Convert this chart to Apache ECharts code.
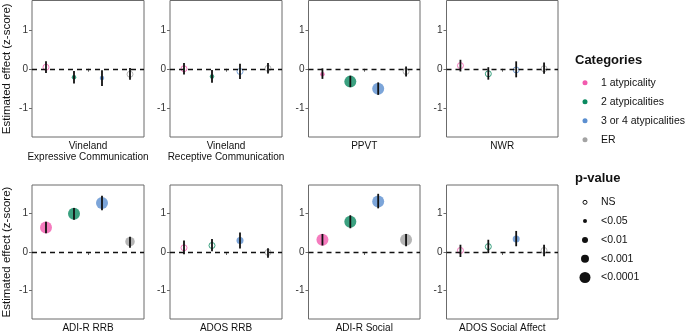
<!DOCTYPE html>
<html>
<head>
<meta charset="utf-8">
<script src="https://cdn.jsdelivr.net/npm/echarts@6/dist/echarts.min.js"></script>
<style>
  html, body { margin: 0; padding: 0; background: #fff; }
  #chart { width: 688px; height: 335px; }
</style>
</head>
<body>
<div id="chart"></div>
<script>
const panels = ['Vineland\nExpressive Communication', 'Vineland\nReceptive Communication', 'PPVT', 'NWR',
  'ADI-R RRB', 'ADOS RRB', 'ADI-R Social', 'ADOS Social Affect'];
const categories = ['1 atypicality', '2 atypicalities', '3 or 4 atypicalities', 'ER'];
const pLabels = ['NS', '<0.05', '<0.01', '<0.001', '<0.0001'];
const yTicks = [-1, 0, 1];

// estimate, lower and upper end of the error bar, one row per panel
const estimates = [
  [0.04, -0.22, -0.24, -0.14],
  [0.00, -0.20, -0.07, 0.01],
  [-0.14, -0.33, -0.51, -0.07],
  [0.08, -0.13, -0.03, 0.00],
  [0.64, 1.00, 1.28, 0.27],
  [0.11, 0.17, 0.30, -0.01],
  [0.32, 0.79, 1.32, 0.32],
  [0.04, 0.14, 0.34, 0.04]
];
const lower = [
  [-0.11, -0.38, -0.44, -0.28],
  [-0.15, -0.36, -0.26, -0.12],
  [-0.26, -0.47, -0.67, -0.20],
  [-0.07, -0.28, -0.22, -0.13],
  [0.49, 0.84, 1.09, 0.11],
  [-0.06, 0.02, 0.09, -0.15],
  [0.17, 0.62, 1.14, 0.15],
  [-0.13, -0.03, 0.15, -0.11]
];
const upper = [
  [0.19, -0.06, -0.04, 0.02],
  [0.15, -0.03, 0.13, 0.15],
  [0.01, -0.18, -0.35, 0.06],
  [0.23, 0.04, 0.19, 0.16],
  [0.79, 1.15, 1.47, 0.40],
  [0.30, 0.34, 0.51, 0.10],
  [0.47, 0.96, 1.52, 0.47],
  [0.19, 0.32, 0.55, 0.19]
];
// index into pLabels
const pLevel = [
  [0, 1, 1, 0],
  [0, 1, 0, 0],
  [1, 4, 4, 0],
  [0, 0, 0, 0],
  [4, 4, 4, 3],
  [0, 0, 2, 0],
  [4, 4, 4, 4],
  [0, 0, 2, 0]
];

const colors = ['#F25AAE', '#0A8A60', '#5B8FD0', '#A3A3A3'];
const sizes = [6, 4.5, 7, 9.5, 12];
const legendR = [2, 2, 3, 4, 5.5];
const font = '"Liberation Sans", Arial, sans-serif';

const colLeft = [28.5, 170, 308.5, 446.5];
const colWidth = [115.5, 112, 111.5, 111.5];
const rowTop = [0.5, 185];
const rowHeight = [136.5, 137];

let grids = [], xAxes = [], yAxes = [], series = [];

panels.forEach((name, i) => {
  let col = i % 4, row = Math.floor(i / 4);
  grids.push({
    left: colLeft[col], top: rowTop[row], width: colWidth[col], height: rowHeight[row],
    show: true, borderColor: '#6b6b6b', borderWidth: 1, backgroundColor: 'transparent'
  });
  xAxes.push({
    type: 'value', gridIndex: i, min: 0.5, max: 4.5,
    name: name, nameLocation: 'middle', nameGap: 4,
    nameTextStyle: { fontFamily: font, fontSize: 10, color: '#111', lineHeight: 11, verticalAlign: 'top' },
    axisLine: { show: false },
    axisTick: { show: true, length: 3, customValues: [2.5], lineStyle: { color: '#6b6b6b' } },
    axisLabel: { show: false },
    splitLine: { show: false }
  });
  yAxes.push({
    type: 'value', gridIndex: i, min: -1.75, max: 1.75,
    name: col === 0 ? 'Estimated effect (z-score)' : '',
    nameLocation: 'middle', nameGap: 19, nameRotate: 90,
    nameTextStyle: { fontFamily: font, fontSize: 11.5, color: '#111' },
    axisLine: { show: false },
    axisTick: { show: true, length: 3, customValues: yTicks, lineStyle: { color: '#6b6b6b' } },
    axisLabel: { show: true, customValues: yTicks, margin: 4, fontFamily: font, fontSize: 10, color: '#333' },
    splitLine: { show: false }
  });

  let pts = [], bars = [];
  categories.forEach((c, j) => {
    let lev = pLevel[i][j];
    pts.push({
      value: [j + 1, estimates[i][j]],
      symbolSize: sizes[lev],
      itemStyle: lev === 0
        ? { color: 'rgba(0,0,0,0)', borderColor: colors[j], borderWidth: 1 }
        : { color: colors[j], borderWidth: 0 }
    });
    bars.push([j + 1, lower[i][j], upper[i][j]]);
  });

  series.push({
    type: 'scatter', xAxisIndex: i, yAxisIndex: i, symbol: 'circle',
    data: pts, z: 2, silent: true,
    markLine: {
      silent: true, symbol: 'none', label: { show: false }, animation: false,
      lineStyle: { color: '#111', type: [5, 4], width: 1.3 },
      data: [{ yAxis: 0 }]
    }
  });
  series.push({
    type: 'custom', xAxisIndex: i, yAxisIndex: i, z: 3, silent: true,
    data: bars,
    encode: { x: 0, y: [1, 2] },
    renderItem: function (params, api) {
      let p1 = api.coord([api.value(0), api.value(1)]);
      let p2 = api.coord([api.value(0), api.value(2)]);
      return {
        type: 'line',
        shape: { x1: p1[0], y1: p1[1], x2: p2[0], y2: p2[1] },
        style: { stroke: '#111', lineWidth: 1.8 }
      };
    }
  });
});

// legends
let graphic = [];
graphic.push({ type: 'text', left: 575, top: 54, style: { text: 'Categories', font: 'bold 13px ' + font, fill: '#111' } });
categories.forEach((c, j) => {
  let y = 82.7 + j * 19;
  graphic.push({ type: 'circle', shape: { cx: 585, cy: y, r: 2.5 }, style: { fill: colors[j] } });
  graphic.push({ type: 'text', x: 601, y: y, style: { text: c, font: '10.5px ' + font, fill: '#111', verticalAlign: 'middle' } });
});
graphic.push({ type: 'text', left: 575, top: 172, style: { text: 'p-value', font: 'bold 13px ' + font, fill: '#111' } });
pLabels.forEach((p, k) => {
  let y = 202.3 + k * 18.8;
  graphic.push({
    type: 'circle', shape: { cx: 585, cy: y, r: legendR[k] },
    style: k === 0 ? { fill: 'none', stroke: '#111', lineWidth: 1 } : { fill: '#111' }
  });
  graphic.push({ type: 'text', x: 601, y: y, style: { text: p, font: '10.5px ' + font, fill: '#111', verticalAlign: 'middle' } });
});

let chart = echarts.init(document.getElementById('chart'), null, { renderer: 'canvas' });
chart.setOption({
  animation: false,
  backgroundColor: '#fff',
  grid: grids,
  xAxis: xAxes,
  yAxis: yAxes,
  series: series,
  graphic: graphic
});
</script>
</body>
</html>
